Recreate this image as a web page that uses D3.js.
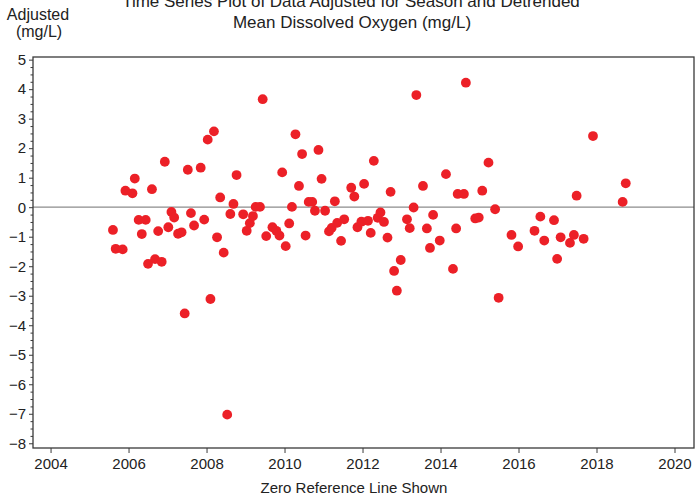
<!DOCTYPE html>
<html>
<head>
<meta charset="utf-8">
<script src="https://cdn.jsdelivr.net/npm/d3@7"></script>
<style>
  html, body { margin: 0; padding: 0; background: #fff; }
  svg { display: block; }
  text { font-family: "Liberation Sans", Arial, sans-serif; fill: #222; }
</style>
</head>
<body>
<svg id="chart" width="699" height="495"></svg>
<script>
// ---- data ----
const titleLines = ["Time Series Plot of Data Adjusted for Season and Detrended", "Mean Dissolved Oxygen (mg/L)"];
const yLabelLines = ["Adjusted", "(mg/L)"];
const xLabel = "Zero Reference Line Shown";
const xTickValues = [2004, 2006, 2008, 2010, 2012, 2014, 2016, 2018, 2020];
const yTickValues = [5, 4, 3, 2, 1, 0, -1, -2, -3, -4, -5, -6, -7, -8];

const years = [
  2005.60, 2005.67, 2005.85, 2005.92, 2006.10, 2006.16, 2006.26, 2006.44, 2006.34, 2006.50,
  2006.68, 2006.85, 2006.60, 2006.76, 2006.93, 2007.02, 2007.10, 2007.17, 2007.27, 2007.36,
  2007.44, 2007.52, 2007.60, 2007.68, 2007.85, 2007.94, 2008.03, 2008.10, 2008.19, 2008.27,
  2008.35, 2008.44, 2008.53, 2008.61, 2008.69, 2008.77, 2008.94, 2009.03, 2009.11, 2009.19,
  2009.26, 2009.37, 2009.44, 2009.53, 2009.69, 2009.79, 2009.87, 2009.94, 2010.03, 2010.12,
  2010.19, 2010.28, 2010.37, 2010.45, 2010.54, 2010.62, 2010.71, 2010.78, 2010.87, 2010.95,
  2011.04, 2011.14, 2011.21, 2011.29, 2011.35, 2011.45, 2011.53, 2011.71, 2011.79, 2011.87,
  2011.97, 2012.04, 2012.14, 2012.21, 2012.29, 2012.39, 2012.46, 2012.55, 2012.64, 2012.72,
  2012.81, 2012.88, 2012.98, 2013.14, 2013.21, 2013.31, 2013.38, 2013.55, 2013.65, 2013.73,
  2013.81, 2013.98, 2014.14, 2014.32, 2014.40, 2014.44, 2014.60, 2014.65, 2014.89, 2014.98,
  2015.07, 2015.23, 2015.40, 2015.49, 2015.82, 2015.99, 2016.41, 2016.56, 2016.66, 2016.91,
  2016.99, 2017.08, 2017.32, 2017.42, 2017.49, 2017.67, 2017.91, 2018.67, 2018.75
];
const adjusted = [
  -0.77, -1.41, -1.43, 0.56, 0.47, 0.97, -0.43, -0.43, -0.91, -1.92,
  -1.76, -1.85, 0.61, -0.81, 1.54, -0.68, -0.16, -0.35, -0.90, -0.85,
  -3.60, 1.27, -0.20, -0.62, 1.34, -0.42, 2.29, -3.11, 2.57, -1.02,
  0.33, -1.54, -7.03, -0.23, 0.11, 1.09, -0.24, -0.80, -0.54, -0.30,
  0.01, 0.01, 3.66, -0.98, -0.68, -0.80, -0.96, 1.18, -1.32, -0.55,
  0.01, 2.47, 0.72, 1.80, -0.96, 0.18, 0.18, -0.12, 1.94, 0.96,
  -0.12, -0.82, -0.70, 0.20, -0.53, -1.14, -0.41, 0.66, 0.36, -0.68,
  -0.49, 0.79, -0.46, -0.87, 1.57, -0.36, -0.18, -0.50, -1.03, 0.52,
  -2.16, -2.83, -1.79, -0.41, -0.71, -0.01, 3.80, 0.72, -0.72, -1.38,
  -0.26, -1.13, 1.12, -2.09, -0.72, 0.45, 0.45, 4.22, -0.38, -0.35,
  0.56, 1.51, -0.07, -3.07, -0.94, -1.33, -0.80, -0.32, -1.13, -0.44,
  -1.75, -1.02, -1.21, -0.94, 0.39, -1.07, 2.41, 0.18, 0.81
];

// ---- layout ----
const plot = { left: 33, right: 694, top: 57, bottom: 448 };
const svg = d3.select("#chart");

const x = d3.scaleLinear().domain([2003.55, 2020.5]).range([plot.left, plot.right]);
const y = d3.scaleLinear().domain([-8.16, 5.09]).range([plot.bottom, plot.top]);

// zero reference line
svg.append("line")
  .attr("x1", plot.left).attr("x2", plot.right)
  .attr("y1", y(0)).attr("y2", y(0))
  .attr("stroke", "#8c8c8c").attr("stroke-width", 1.2);

// points
const pts = years.map((yr, i) => ({ t: yr, v: adjusted[i] }));
svg.append("g").selectAll("circle").data(pts).join("circle")
  .attr("cx", d => x(d.t)).attr("cy", d => y(d.v))
  .attr("r", 4.9).attr("fill", "#ec2027");

// frame
svg.append("rect")
  .attr("x", plot.left).attr("y", plot.top)
  .attr("width", plot.right - plot.left).attr("height", plot.bottom - plot.top)
  .attr("fill", "none").attr("stroke", "#3a3a3a").attr("stroke-width", 1.3);

// y axis with minor ticks
const yMinor = d3.range(-8, 5.001, 0.25).filter(v => Math.abs(v - Math.round(v)) > 1e-6);
svg.append("g").attr("transform", `translate(${plot.left},0)`)
  .call(d3.axisLeft(y).tickValues(yMinor).tickSize(2.5).tickFormat(""))
  .call(g => g.select(".domain").remove())
  .call(g => g.selectAll("line").attr("stroke", "#3a3a3a"));
const yAx = svg.append("g").attr("transform", `translate(${plot.left},0)`)
  .call(d3.axisLeft(y).tickValues(yTickValues).tickSize(4).tickPadding(3).tickFormat(d3.format("d")));
yAx.select(".domain").remove();
yAx.selectAll("line").attr("stroke", "#3a3a3a");
yAx.selectAll("text").attr("font-size", 15).attr("font-family", "Liberation Sans, Arial, sans-serif").attr("fill", "#222");

// x axis
const xAx = svg.append("g").attr("transform", `translate(0,${plot.bottom})`)
  .call(d3.axisBottom(x).tickValues(xTickValues).tickSize(5).tickPadding(5).tickFormat(d3.format("d")));
xAx.select(".domain").remove();
xAx.selectAll("line").attr("stroke", "#3a3a3a");
xAx.selectAll("text").attr("font-size", 15).attr("font-family", "Liberation Sans, Arial, sans-serif").attr("fill", "#222");

// titles
svg.append("text").attr("x", 351).attr("y", 7).attr("text-anchor", "middle")
  .attr("font-size", 17).text(titleLines[0]);
svg.append("text").attr("x", 352).attr("y", 28).attr("text-anchor", "middle")
  .attr("font-size", 17).text(titleLines[1]);

svg.append("text").attr("x", 38).attr("y", 20).attr("text-anchor", "middle")
  .attr("font-size", 16).text(yLabelLines[0]);
svg.append("text").attr("x", 39).attr("y", 37).attr("text-anchor", "middle")
  .attr("font-size", 16).text(yLabelLines[1]);

svg.append("text").attr("x", 354).attr("y", 493).attr("text-anchor", "middle")
  .attr("font-size", 15).text(xLabel);
</script>
</body>
</html>
